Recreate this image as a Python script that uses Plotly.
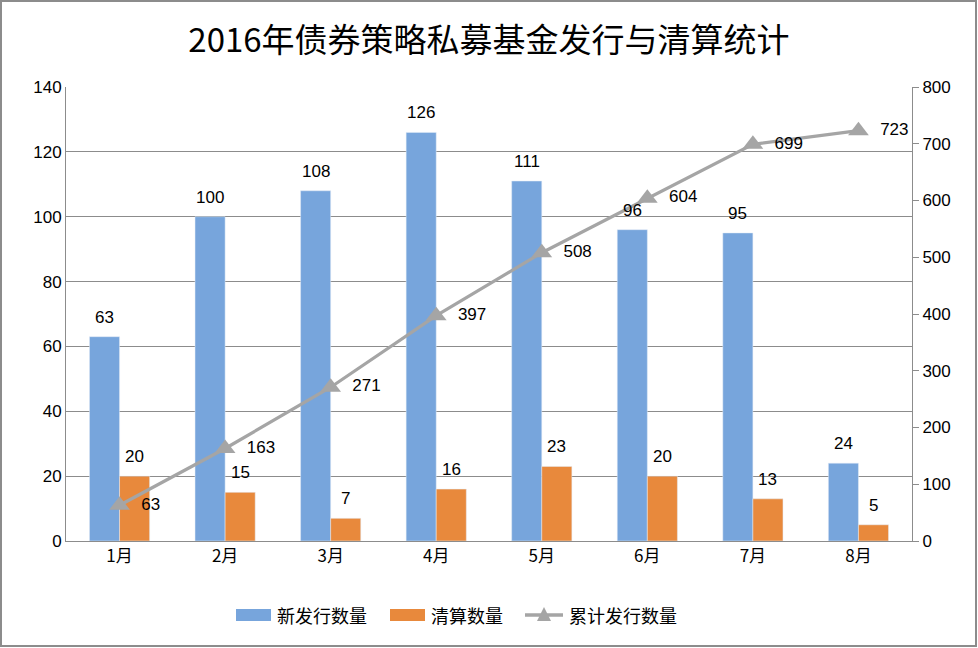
import plotly.graph_objects as go

months = ["1月", "2月", "3月", "4月", "5月", "6月", "7月", "8月"]
new_issued = [63, 100, 108, 126, 111, 96, 95, 24]
liquidated = [20, 15, 7, 16, 23, 20, 13, 5]
cumulative = [63, 163, 271, 397, 508, 604, 699, 723]
series_names = ["新发行数量", "清算数量", "累计发行数量"]

title_text = "2016年债券策略私募基金发行与清算统计"
font_main = "Liberation Sans, Noto Sans CJK SC, sans-serif"
font_cjk = "Noto Sans CJK SC, sans-serif"
c_blue, c_orange, c_gray = "#77A5DC", "#E8893C", "#A5A5A5"

fig = go.Figure()
fig.add_trace(go.Bar(
    x=months, y=new_issued, name=series_names[0], marker_color=c_blue,
))
fig.add_trace(go.Bar(
    x=months, y=liquidated, name=series_names[1], marker_color=c_orange,
))
fig.add_trace(go.Scatter(
    x=months, y=cumulative, name=series_names[2], yaxis="y2",
    mode="lines+markers+text",
    line=dict(color=c_gray, width=3.2),
    marker=dict(symbol="triangle-up", size=18, color=c_gray),
    text=["  " + str(v) for v in cumulative], textposition="middle right",
    textfont=dict(size=17, color="#000000"), cliponaxis=False,
))

# bar value labels (anchored to data values)
for m, v in zip(months, new_issued):
    fig.add_annotation(x=m, y=v, xref="x", yref="y", text=str(v), showarrow=False,
                       xshift=-15, yshift=8, yanchor="bottom",
                       font=dict(size=17, color="#000000"))
for m, v in zip(months, liquidated):
    fig.add_annotation(x=m, y=v, xref="x", yref="y", text=str(v), showarrow=False,
                       xshift=15, yshift=8, yanchor="bottom",
                       font=dict(size=17, color="#000000"))

L, R, T, B = 66, 66, 87, 107
W, H = 978, 648
pw, ph = W - L - R, H - T - B


def px(x):
    return (x - L) / pw


def py(y):
    return (T + ph - y) / ph


fig.update_layout(
    width=W, height=H,
    margin=dict(l=L, r=R, t=T, b=B, autoexpand=False),
    paper_bgcolor="white", plot_bgcolor="white",
    font=dict(family=font_main, size=16, color="#000000"),
    title=dict(text=title_text, x=0.5, xanchor="center", y=0.938, yanchor="middle",
               font=dict(family=font_cjk, size=33, color="#000000")),
    barmode="group", bargap=0.43, bargroupgap=0,
    xaxis=dict(showline=True, linecolor="#8C8C8C", linewidth=1, ticks="",
               tickfont=dict(size=17, family=font_cjk), showgrid=False),
    yaxis=dict(range=[0, 140], dtick=20, showline=True, linecolor="#8C8C8C",
               gridcolor="#8C8C8C", gridwidth=1, ticks="", zeroline=False,
               tickfont=dict(size=17)),
    yaxis2=dict(range=[0, 800], dtick=100, overlaying="y", side="right",
                showline=True, linecolor="#8C8C8C", showgrid=False,
                ticks="outside", ticklen=6, tickcolor="#8C8C8C", zeroline=False,
                tickfont=dict(size=17)),
    showlegend=False,
)

# outer chart border
fig.add_shape(type="rect", xref="paper", yref="paper",
              x0=px(1), x1=px(W - 2), y0=py(H - 2), y1=py(1),
              line=dict(color="#8C8C8C", width=2), layer="below")

# custom legend
ly = 615
fig.add_shape(type="rect", xref="paper", yref="paper",
              x0=px(236), x1=px(271), y0=py(621), y1=py(609),
              fillcolor=c_blue, line=dict(width=0))
fig.add_shape(type="rect", xref="paper", yref="paper",
              x0=px(390), x1=px(425), y0=py(621), y1=py(609),
              fillcolor=c_orange, line=dict(width=0))
fig.add_shape(type="line", xref="paper", yref="paper",
              x0=px(525), x1=px(563), y0=py(ly), y1=py(ly),
              line=dict(color=c_gray, width=3.5))
fig.add_shape(type="path", xref="paper", yref="paper",
              path="M {} {} L {} {} L {} {} Z".format(px(537), py(621), px(551), py(621), px(544), py(607)),
              fillcolor=c_gray, line=dict(width=0))
for xpos, name in zip([275, 429, 567], series_names):
    fig.add_annotation(xref="paper", yref="paper", x=px(xpos), y=py(ly),
                       xanchor="left", yanchor="middle", showarrow=False,
                       text=name, font=dict(family=font_cjk, size=18, color="#000000"))

fig.write_html("out.html", config={"displayModeBar": False},
               post_script="document.body.style.margin='0';document.body.style.overflow='hidden';")
